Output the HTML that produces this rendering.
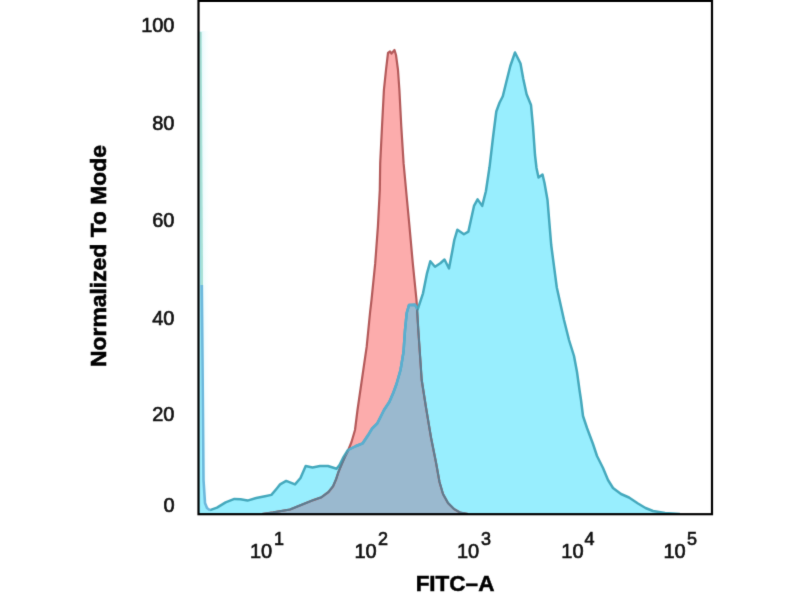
<!DOCTYPE html>
<html><head><meta charset="utf-8"><style>
html,body{margin:0;padding:0;background:#fff;width:800px;height:600px;overflow:hidden}
svg{display:block}
text{font-family:"Liberation Sans",sans-serif}
</style></head><body>
<svg width="800" height="600" viewBox="0 0 800 600">
<defs>
<filter id="bl" x="0" y="0" width="800" height="600" filterUnits="userSpaceOnUse" color-interpolation-filters="sRGB"><feConvolveMatrix order="3" kernelMatrix="0.0114 0.0841 0.0114 0.0841 0.618 0.0841 0.0114 0.0841 0.0114" edgeMode="duplicate" preserveAlpha="false"/></filter>
<linearGradient id="gsp" x1="0" x2="1" y1="0" y2="0"><stop offset="0" stop-color="#d6f6fb"/><stop offset="1" stop-color="#ffffff" stop-opacity="0"/></linearGradient>
<clipPath id="cb"><path d="M199,514 L200.5,32 L201.8,285 L202.5,360 L203.5,480 L205,503 L207,508 L210,510.2 L217,507.6 L225.6,502.4 L234.4,498.9 L240.5,499.3 L247.5,500.6 L256.2,498 L265,496.2 L271.4,494.9 L276.6,488.7 L280.1,484.4 L286.2,480.9 L295,484.4 L300.5,478 L305.7,466 L312.5,467.5 L320,466 L328,466 L336.6,468.7 L339.5,465 L343,458 L348,450 L356,446 L362.7,443.3 L368,435.3 L372,428.7 L377.3,423.3 L380,418 L384,410 L389.3,402 L393.3,392.7 L396.5,384 L400.5,370 L403.5,352 L405,330 L406.7,313 L409,305 L415,304.7 L417.7,309.3 L423,293.3 L427,273.3 L430.3,261.3 L435,266.7 L440.3,263.3 L444.5,259.5 L449,268.5 L452.5,250 L454.3,240 L457.4,229.7 L463.9,234.3 L468.4,231.6 L474,205.9 L477.6,199.4 L482.2,205.9 L485.9,191.2 L489.5,167.3 L493,137.5 L496.3,111.5 L499.5,102.8 L502.8,96.3 L506,83.3 L510.3,66 L515,52.5 L520.5,63.5 L523.3,79 L526.6,94.2 L531,105 L533,126.7 L535,155 L536.5,168 L538.5,177.5 L542.5,174.5 L544.5,183 L547.5,200 L551.2,245 L556.8,287.5 L564,320 L569,340 L574,356 L577,372 L579.5,390 L581,400 L583,416 L587,428 L593,444 L597,456 L603,468 L608,480 L613,488 L621,494 L629,497.5 L638,503.5 L645.5,508 L653,511 L665,513 L680,514 Z"/></clipPath>
<clipPath id="cr"><path d="M262,514 L273,512.4 L290,509.5 L301.7,504.8 L313.3,500.1 L321.5,497.2 L328.5,492 L333.1,486.2 L336.1,479.2 L338.4,472.2 L341.3,465.2 L344.8,457 L348.3,450 L351.5,442 L355,430 L357.5,410 L363.3,370 L366.7,346.7 L370,313 L371.5,300 L375.2,263.4 L377.9,226.7 L379.8,190 L380.2,163.4 L382,126.7 L383.9,90 L386,70 L388,53 L390,51.5 L391.5,53.5 L394.5,50 L396,55 L398,70 L399.4,90 L401.3,126.7 L403.6,163.4 L407,200 L409.5,226.7 L412.8,263.4 L416.5,300 L418.3,330 L420,355 L421.7,380 L426,407.5 L431,437.5 L436,462.5 L439.5,482 L443,494 L448,503 L454,509 L460,512.5 L468,514 Z"/></clipPath>
<clipPath id="plot"><rect x="199" y="1" width="513" height="513"/></clipPath>
</defs>
<g filter="url(#bl)">
<rect x="0" y="0" width="800" height="600" fill="#fff"/>
<g clip-path="url(#plot)">
<rect x="199" y="31" width="12" height="470" fill="url(#gsp)"/>
<path d="M262,514 L273,512.4 L290,509.5 L301.7,504.8 L313.3,500.1 L321.5,497.2 L328.5,492 L333.1,486.2 L336.1,479.2 L338.4,472.2 L341.3,465.2 L344.8,457 L348.3,450 L351.5,442 L355,430 L357.5,410 L363.3,370 L366.7,346.7 L370,313 L371.5,300 L375.2,263.4 L377.9,226.7 L379.8,190 L380.2,163.4 L382,126.7 L383.9,90 L386,70 L388,53 L390,51.5 L391.5,53.5 L394.5,50 L396,55 L398,70 L399.4,90 L401.3,126.7 L403.6,163.4 L407,200 L409.5,226.7 L412.8,263.4 L416.5,300 L418.3,330 L420,355 L421.7,380 L426,407.5 L431,437.5 L436,462.5 L439.5,482 L443,494 L448,503 L454,509 L460,512.5 L468,514 Z" fill="#fcacac"/>
<path d="M199,514 L200.5,32 L201.8,285 L202.5,360 L203.5,480 L205,503 L207,508 L210,510.2 L217,507.6 L225.6,502.4 L234.4,498.9 L240.5,499.3 L247.5,500.6 L256.2,498 L265,496.2 L271.4,494.9 L276.6,488.7 L280.1,484.4 L286.2,480.9 L295,484.4 L300.5,478 L305.7,466 L312.5,467.5 L320,466 L328,466 L336.6,468.7 L339.5,465 L343,458 L348,450 L356,446 L362.7,443.3 L368,435.3 L372,428.7 L377.3,423.3 L380,418 L384,410 L389.3,402 L393.3,392.7 L396.5,384 L400.5,370 L403.5,352 L405,330 L406.7,313 L409,305 L415,304.7 L417.7,309.3 L423,293.3 L427,273.3 L430.3,261.3 L435,266.7 L440.3,263.3 L444.5,259.5 L449,268.5 L452.5,250 L454.3,240 L457.4,229.7 L463.9,234.3 L468.4,231.6 L474,205.9 L477.6,199.4 L482.2,205.9 L485.9,191.2 L489.5,167.3 L493,137.5 L496.3,111.5 L499.5,102.8 L502.8,96.3 L506,83.3 L510.3,66 L515,52.5 L520.5,63.5 L523.3,79 L526.6,94.2 L531,105 L533,126.7 L535,155 L536.5,168 L538.5,177.5 L542.5,174.5 L544.5,183 L547.5,200 L551.2,245 L556.8,287.5 L564,320 L569,340 L574,356 L577,372 L579.5,390 L581,400 L583,416 L587,428 L593,444 L597,456 L603,468 L608,480 L613,488 L621,494 L629,497.5 L638,503.5 L645.5,508 L653,511 L665,513 L680,514 Z" fill="#98eefe"/>
<path d="M262,514 L273,512.4 L290,509.5 L301.7,504.8 L313.3,500.1 L321.5,497.2 L328.5,492 L333.1,486.2 L336.1,479.2 L338.4,472.2 L341.3,465.2 L344.8,457 L348.3,450 L351.5,442 L355,430 L357.5,410 L363.3,370 L366.7,346.7 L370,313 L371.5,300 L375.2,263.4 L377.9,226.7 L379.8,190 L380.2,163.4 L382,126.7 L383.9,90 L386,70 L388,53 L390,51.5 L391.5,53.5 L394.5,50 L396,55 L398,70 L399.4,90 L401.3,126.7 L403.6,163.4 L407,200 L409.5,226.7 L412.8,263.4 L416.5,300 L418.3,330 L420,355 L421.7,380 L426,407.5 L431,437.5 L436,462.5 L439.5,482 L443,494 L448,503 L454,509 L460,512.5 L468,514 Z" fill="#9ab9cf" clip-path="url(#cb)"/>
<path d="M262,514 L273,512.4 L290,509.5 L301.7,504.8 L313.3,500.1 L321.5,497.2 L328.5,492 L333.1,486.2 L336.1,479.2 L338.4,472.2 L341.3,465.2 L344.8,457 L348.3,450 L351.5,442 L355,430 L357.5,410 L363.3,370 L366.7,346.7 L370,313 L371.5,300 L375.2,263.4 L377.9,226.7 L379.8,190 L380.2,163.4 L382,126.7 L383.9,90 L386,70 L388,53 L390,51.5 L391.5,53.5 L394.5,50 L396,55 L398,70 L399.4,90 L401.3,126.7 L403.6,163.4 L407,200 L409.5,226.7 L412.8,263.4 L416.5,300 L418.3,330 L420,355 L421.7,380 L426,407.5 L431,437.5 L436,462.5 L439.5,482 L443,494 L448,503 L454,509 L460,512.5 L468,514" fill="none" stroke="#b45a5a" stroke-width="2.2" stroke-linejoin="round"/>
<path d="M210,510.2 L217,507.6 L225.6,502.4 L234.4,498.9 L240.5,499.3 L247.5,500.6 L256.2,498 L265,496.2 L271.4,494.9 L276.6,488.7 L280.1,484.4 L286.2,480.9 L295,484.4 L300.5,478 L305.7,466 L312.5,467.5 L320,466 L328,466 L336.6,468.7 L339.5,465 L343,458 L348,450 L356,446 L362.7,443.3 L368,435.3 L372,428.7 L377.3,423.3 L380,418 L384,410 L389.3,402 L393.3,392.7 L396.5,384 L400.5,370 L403.5,352 L405,330 L406.7,313 L409,305 L415,304.7 L417.7,309.3 L423,293.3 L427,273.3 L430.3,261.3 L435,266.7 L440.3,263.3 L444.5,259.5 L449,268.5 L452.5,250 L454.3,240 L457.4,229.7 L463.9,234.3 L468.4,231.6 L474,205.9 L477.6,199.4 L482.2,205.9 L485.9,191.2 L489.5,167.3 L493,137.5 L496.3,111.5 L499.5,102.8 L502.8,96.3 L506,83.3 L510.3,66 L515,52.5 L520.5,63.5 L523.3,79 L526.6,94.2 L531,105 L533,126.7 L535,155 L536.5,168 L538.5,177.5 L542.5,174.5 L544.5,183 L547.5,200 L551.2,245 L556.8,287.5 L564,320 L569,340 L574,356 L577,372 L579.5,390 L581,400 L583,416 L587,428 L593,444 L597,456 L603,468 L608,480 L613,488 L621,494 L629,497.5 L638,503.5 L645.5,508 L653,511 L665,513 L680,514" fill="none" stroke="#45a9bd" stroke-width="2.5" stroke-linejoin="round"/>
<path d="M200.5,32 L201.8,285" fill="none" stroke="#a6e0d6" stroke-width="2.4"/>
<path d="M201.8,285 L202.5,360 L203.5,480 L205,503 L207,508 L210,510.2" fill="none" stroke="#6cb8dc" stroke-width="2.6" stroke-linejoin="round"/>
<g clip-path="url(#cb)"><path d="M262,514 L273,512.4 L290,509.5 L301.7,504.8 L313.3,500.1 L321.5,497.2 L328.5,492 L333.1,486.2 L336.1,479.2 L338.4,472.2 L341.3,465.2 L344.8,457 L348.3,450 L351.5,442 L355,430 L357.5,410 L363.3,370 L366.7,346.7 L370,313 L371.5,300 L375.2,263.4 L377.9,226.7 L379.8,190 L380.2,163.4 L382,126.7 L383.9,90 L386,70 L388,53 L390,51.5 L391.5,53.5 L394.5,50 L396,55 L398,70 L399.4,90 L401.3,126.7 L403.6,163.4 L407,200 L409.5,226.7 L412.8,263.4 L416.5,300 L418.3,330 L420,355 L421.7,380 L426,407.5 L431,437.5 L436,462.5 L439.5,482 L443,494 L448,503 L454,509 L460,512.5 L468,514" fill="none" stroke="#5a7d92" stroke-width="2" stroke-linejoin="round"/></g>
<g clip-path="url(#cr)"><path d="M199,514 L200.5,32 L201.8,285 L202.5,360 L203.5,480 L205,503 L207,508 L210,510.2 L217,507.6 L225.6,502.4 L234.4,498.9 L240.5,499.3 L247.5,500.6 L256.2,498 L265,496.2 L271.4,494.9 L276.6,488.7 L280.1,484.4 L286.2,480.9 L295,484.4 L300.5,478 L305.7,466 L312.5,467.5 L320,466 L328,466 L336.6,468.7 L339.5,465 L343,458 L348,450 L356,446 L362.7,443.3 L368,435.3 L372,428.7 L377.3,423.3 L380,418 L384,410 L389.3,402 L393.3,392.7 L396.5,384 L400.5,370 L403.5,352 L405,330 L406.7,313 L409,305 L415,304.7 L417.7,309.3 L423,293.3 L427,273.3 L430.3,261.3 L435,266.7 L440.3,263.3 L444.5,259.5 L449,268.5 L452.5,250 L454.3,240 L457.4,229.7 L463.9,234.3 L468.4,231.6 L474,205.9 L477.6,199.4 L482.2,205.9 L485.9,191.2 L489.5,167.3 L493,137.5 L496.3,111.5 L499.5,102.8 L502.8,96.3 L506,83.3 L510.3,66 L515,52.5 L520.5,63.5 L523.3,79 L526.6,94.2 L531,105 L533,126.7 L535,155 L536.5,168 L538.5,177.5 L542.5,174.5 L544.5,183 L547.5,200 L551.2,245 L556.8,287.5 L564,320 L569,340 L574,356 L577,372 L579.5,390 L581,400 L583,416 L587,428 L593,444 L597,456 L603,468 L608,480 L613,488 L621,494 L629,497.5 L638,503.5 L645.5,508 L653,511 L665,513 L680,514" fill="none" stroke="#5aaed0" stroke-width="2.5" stroke-linejoin="round"/></g>
</g>
<rect x="198.5" y="0.9" width="513.5" height="513.3" fill="none" stroke="#000" stroke-width="2.2"/>
<g fill="#111" stroke="#111" stroke-width="0.65" font-size="20" text-anchor="end">
<text x="174.5" y="32">100</text>
<text x="174.5" y="130">80</text>
<text x="174.5" y="226.7">60</text>
<text x="174.5" y="325">40</text>
<text x="174.5" y="421.3">20</text>
<text x="174.5" y="511.7">0</text>
</g>
<g fill="#111" stroke="#111" stroke-width="0.65" font-size="20">
<text x="250" y="558">10</text><text x="274" y="545" font-size="18">1</text>
<text x="354.5" y="558">10</text><text x="378" y="545" font-size="18">2</text>
<text x="457" y="558">10</text><text x="481" y="545" font-size="18">3</text>
<text x="561.3" y="558">10</text><text x="584.5" y="545" font-size="18">4</text>
<text x="663.4" y="558">10</text><text x="687" y="545" font-size="18">5</text>
</g>
<text x="455" y="591.3" font-size="22.5" font-weight="bold" text-anchor="middle" fill="#000" stroke="#000" stroke-width="0.5">FITC–A</text>
<text transform="translate(105.5,256) rotate(-90) scale(1.04,1)" font-size="22" font-weight="bold" text-anchor="middle" fill="#000" stroke="#000" stroke-width="0.6">Normalized To Mode</text>
</g>
</svg>
</body></html>
